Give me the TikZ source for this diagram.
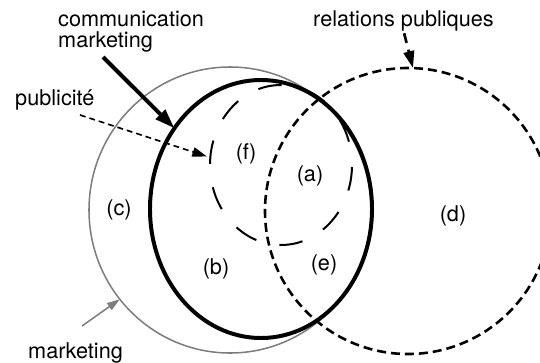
\documentclass[tikz,border=0pt]{standalone}
\usepackage{fontspec}
\setmainfont{TeX Gyre Heros}
\usetikzlibrary{arrows.meta, shapes.geometric}
\definecolor{mkgray}{RGB}{125,125,125}

\begin{document}
\begin{tikzpicture}[x=0.03cm, y=-0.03cm,
  zone/.style={ellipse, inner sep=0pt, outer sep=0pt},
  mkzone/.style={zone, draw=mkgray, line width=1.3pt},
  cmzone/.style={zone, draw=black, line width=3.4pt},
  pubzone/.style={zone, draw=black, line width=1.7pt,
                  dash pattern=on 20.17pt off 20.17pt, dash phase=20.17pt},
  rpzone/.style={zone, draw=black, line width=2.2pt,
                 dash pattern=on 7.67pt off 4.26pt},
  lbl/.style={inner sep=0pt, font=\fontsize{18.5}{18}\selectfont},
  cmarr/.style={-{Triangle[length=17pt, width=11pt]}, line width=3.4pt},
  pubarr/.style={-{Triangle[length=12.5pt, width=8pt]}, line width=1.4pt,
                 dash pattern=on 5pt off 3.4pt, shorten >=3pt},
  rparr/.style={-{Triangle[length=14.5pt, width=9pt]}, line width=2.3pt,
                dash pattern=on 8.5pt off 6pt, shorten <=2pt},
  mkarr/.style={-{Triangle[length=11pt, width=7pt]}, draw=mkgray, fill=mkgray,
                line width=1.3pt},
]
\useasboundingbox (0,0) rectangle (540,362);
\clip (0,0) rectangle (540,362);

% the four zones
\node[mkzone, minimum width=8.46cm, minimum height=8.58cm] (mk) at (230,210) {};
\node[pubzone, minimum width=4.26cm, minimum height=4.8cm] (pub) at (281,165) {};
\node[rpzone, minimum width=8.58cm, minimum height=8.58cm] (rp) at (408,211) {};
\node[cmzone, minimum width=6.66cm, minimum height=7.74cm] (cm) at (261,209) {};

% names
\node[lbl, anchor=north west, align=left] (cmlabel) at (58,11) {communication\\marketing};
\node[lbl, anchor=base west] (publabel) at (15,105) {publicité};
\node[lbl, anchor=base west] (rplabel) at (313,26) {relations publiques};
\node[lbl, anchor=base west] (mklabel) at (28,358) {marketing};

% regions
\node[lbl] (za) at (310,176) {(a)};
\node[lbl] (zb) at (216,269) {(b)};
\node[lbl] (zc) at (119,210) {(c)};
\node[lbl] (zd) at (453,216) {(d)};
\node[lbl] (ze) at (324,265) {(e)};
\node[lbl] (zf) at (246,154) {(f)};

\coordinate (cmtail) at (103,57);
\coordinate (pubtail) at (80,115);
\coordinate (mktail) at (82,326);

\draw[cmarr]  (cmtail) -- (cm.137);
\draw[pubarr] (pubtail) -- (pub.174);
\draw[rparr]  (rplabel.south) -- (rp.88);
\draw[mkarr]  (mktail) -- (mk.219);
\end{tikzpicture}
\end{document}
